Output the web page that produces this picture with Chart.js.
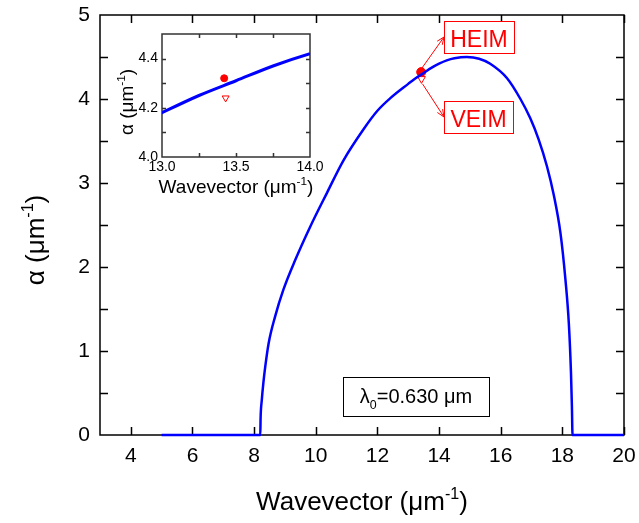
<!DOCTYPE html>
<html>
<head>
<meta charset="utf-8">
<script src="https://cdn.jsdelivr.net/npm/chart.js@4.4.1/dist/chart.umd.min.js"></script>
<style>
  body { margin: 0; background: #fff; }
  #wrap { position: relative; width: 639px; height: 523px; }
  canvas { position: absolute; }
  #main { left: 0; top: 0; }
  #inset { left: 100px; top: 20px; }
</style>
</head>
<body>
<div id="wrap">
  <canvas id="main" width="639" height="523"></canvas>
  <canvas id="inset" width="230" height="185"></canvas>
</div>
<script>
// attenuation curve
const waveK = [5, 8.20, 8.21, 8.25, 8.30, 8.36, 8.47, 8.68, 8.95, 9.33, 9.82, 10.36, 10.90, 11.55,
  12.00, 12.42, 13.00, 13.25, 13.50, 13.75, 14.00, 14.25, 14.50, 14.90, 15.30, 15.66, 16.20,
  16.64, 16.96, 17.23, 17.50, 17.72, 17.94, 18.10, 18.21, 18.28, 18.31, 18.33, 20];
const alphaVals = [0, 0, 0.20, 0.42, 0.62, 0.81, 1.09, 1.41, 1.73, 2.08, 2.48, 2.88, 3.27, 3.64,
  3.86, 4.01, 4.18, 4.25, 4.31, 4.37, 4.42, 4.46, 4.485, 4.50, 4.48, 4.42, 4.25,
  4.00, 3.77, 3.52, 3.20, 2.86, 2.40, 1.85, 1.33, 0.74, 0.34, 0, 0];

// single points
const heimPoint = { x: 13.42, y: 4.32 };
const veimPoint = { x: 13.43, y: 4.24 };

// tick labels
const mainXTicks = [4, 6, 8, 10, 12, 14, 16, 18, 20];
const mainYTicks = [0, 1, 2, 3, 4, 5];
const insetXTicks = [13.0, 13.5, 14.0];
const insetYTicks = [4.0, 4.2, 4.4];
// tick marks (incl. minor)
const mainYMarks = [0.5, 1, 1.5, 2, 2.5, 3, 3.5, 4, 4.5];
const insetXMarks = [13.25, 13.5, 13.75];
const insetYMarks = [4.1, 4.2, 4.3, 4.4];

const FONT = "'Liberation Sans', Arial, sans-serif";
Chart.defaults.font.family = FONT;
Chart.defaults.color = '#000';

const curvePts = waveK.map((k, i) => ({ x: k, y: alphaVals[i] }));

// text with super/subscript parts
function richText(ctx, parts, x, y, size, color) {
  const w = parts.reduce((s, p) => {
    ctx.font = (p.sup || p.sub ? size * 0.62 : size) + 'px ' + FONT;
    return s + ctx.measureText(p.t).width;
  }, 0);
  let cx = x - w / 2;
  ctx.fillStyle = color || '#000';
  ctx.textBaseline = 'alphabetic';
  ctx.textAlign = 'left';
  parts.forEach(p => {
    const sz = p.sup || p.sub ? size * 0.62 : size;
    ctx.font = sz + 'px ' + FONT;
    const dy = p.sup ? -size * 0.42 : p.sub ? size * 0.28 : 0;
    ctx.fillText(p.t, cx, y + dy);
    cx += ctx.measureText(p.t).width;
  });
}

function frameAndTicks(chart, o) {
  const { ctx, chartArea: a, scales: { x, y } } = chart;
  ctx.save();
  ctx.strokeStyle = o.color;
  ctx.lineWidth = o.lw;
  ctx.strokeRect(a.left, a.top, a.right - a.left, a.bottom - a.top);
  ctx.beginPath();
  o.xMarks.forEach(v => {
    const px = Math.round(x.getPixelForValue(v)) + 0.5;
    ctx.moveTo(px, a.bottom); ctx.lineTo(px, a.bottom - o.len);
    ctx.moveTo(px, a.top); ctx.lineTo(px, a.top + o.len);
  });
  o.yMarks.forEach(v => {
    const py = Math.round(y.getPixelForValue(v)) + 0.5;
    ctx.moveTo(a.left, py); ctx.lineTo(a.left + o.len, py);
    ctx.moveTo(a.right, py); ctx.lineTo(a.right - o.len, py);
  });
  ctx.stroke();
  ctx.restore();
}

const subTitleX = [{ t: 'Wavevector (\u03bcm' }, { t: '-1', sup: true }, { t: ')' }];
const subTitleY = [{ t: '\u03b1 (\u03bcm' }, { t: '-1', sup: true }, { t: ')' }];

function labelBox(ctx, text, x, y, w, h, size) {
  ctx.strokeStyle = '#ff0000';
  ctx.lineWidth = 1;
  ctx.fillStyle = '#fff';
  ctx.fillRect(x, y, w, h);
  ctx.strokeRect(x + 0.5, y + 0.5, w, h);
  richText(ctx, [{ t: text }], x + w / 2, y + h - 6, size, '#ff0000');
}

function arrow(ctx, x0, y0, x1, y1) {
  const ang = Math.atan2(y1 - y0, x1 - x0);
  ctx.strokeStyle = '#ff0000';
  ctx.lineWidth = 1;
  ctx.beginPath();
  ctx.moveTo(x0, y0); ctx.lineTo(x1, y1);
  ctx.moveTo(x1 - 8 * Math.cos(ang - 0.4), y1 - 8 * Math.sin(ang - 0.4));
  ctx.lineTo(x1, y1);
  ctx.lineTo(x1 - 8 * Math.cos(ang + 0.4), y1 - 8 * Math.sin(ang + 0.4));
  ctx.stroke();
}

const mainDeco = {
  id: 'mainDeco',
  beforeDatasetsDraw(chart) {
    frameAndTicks(chart, { color: '#000', lw: 1.5, len: 8, xMarks: mainXTicks, yMarks: mainYMarks });
  },
  afterDraw(chart) {
    const { ctx, chartArea: a, scales: { x, y } } = chart;
    ctx.save();
    richText(ctx, subTitleX, (a.left + a.right) / 2, 510, 26);
    ctx.translate(44, 240);
    ctx.rotate(-Math.PI / 2);
    richText(ctx, subTitleY, 0, 0, 26);
    ctx.restore();

    ctx.save();
    const hx = x.getPixelForValue(heimPoint.x), hy = y.getPixelForValue(heimPoint.y);
    const vx = x.getPixelForValue(veimPoint.x), vy = y.getPixelForValue(veimPoint.y);
    arrow(ctx, hx, hy - 3, 444, 37);
    arrow(ctx, vx + 1, vy + 5, 444, 117);
    labelBox(ctx, 'HEIM', 444, 21, 70, 32, 23);
    labelBox(ctx, 'VEIM', 444, 101, 69, 32, 23);
    // wavelength box
    ctx.strokeStyle = '#000';
    ctx.lineWidth = 1;
    ctx.strokeRect(343.5, 377.5, 146, 39);
    richText(ctx, [{ t: '\u03bb' }, { t: '0', sub: true }, { t: '=0.630 \u03bcm' }], 416, 403, 20);
    ctx.restore();
  }
};

const insetDeco = {
  id: 'insetDeco',
  beforeDatasetsDraw(chart) {
    frameAndTicks(chart, { color: '#333', lw: 1.5, len: 4, xMarks: insetXMarks, yMarks: insetYMarks });
  },
  afterDraw(chart) {
    const { ctx, chartArea: a } = chart;
    ctx.save();
    richText(ctx, subTitleX, (a.left + a.right) / 2, 173, 19);
    ctx.translate(33, 82);
    ctx.rotate(-Math.PI / 2);
    richText(ctx, subTitleY, 0, 0, 19);
    ctx.restore();
  }
};

function fixTicks(list) {
  return scale => { scale.ticks = list.map(v => ({ value: v })); };
}
function fitX(h) {
  return s => { s.height = h; s.paddingLeft = 0; s.paddingRight = 0; };
}
function fitY(w) {
  return s => { s.width = w; s.paddingTop = 0; s.paddingBottom = 0; };
}

new Chart(document.getElementById('main'), {
  type: 'scatter',
  data: {
    datasets: [
      { data: curvePts, showLine: true, borderColor: '#0000ff', borderWidth: 2.5, pointRadius: 0,
        cubicInterpolationMode: 'monotone', clip: false },
      { data: [heimPoint], pointRadius: 4.5, backgroundColor: '#ff0000', borderColor: '#ff0000' },
      { data: [veimPoint], pointStyle: 'triangle', rotation: 180, pointRadius: 4.5,
        backgroundColor: '#fff', borderColor: '#ff0000', borderWidth: 1 }
    ]
  },
  options: {
    responsive: false,
    animation: false,
    layout: { padding: { top: 15, right: 15, left: 0, bottom: 0 } },
    plugins: { legend: { display: false }, tooltip: { enabled: false } },
    scales: {
      x: {
        min: 3, max: 20,
        grid: { display: false, drawTicks: false },
        border: { display: false },
        afterBuildTicks: fixTicks(mainXTicks),
        afterFit: fitX(88),
        ticks: { font: { size: 21 }, padding: 9, autoSkip: false, maxRotation: 0 }
      },
      y: {
        min: 0, max: 5,
        grid: { display: false, drawTicks: false },
        border: { display: false },
        afterBuildTicks: fixTicks(mainYTicks),
        afterFit: fitY(100),
        ticks: { font: { size: 21 }, padding: 10 }
      }
    }
  },
  plugins: [mainDeco]
});

new Chart(document.getElementById('inset'), {
  type: 'scatter',
  data: {
    datasets: [
      { data: curvePts, showLine: true, borderColor: '#0000ff', borderWidth: 3, pointRadius: 0,
        cubicInterpolationMode: 'monotone' },
      { data: [heimPoint], pointRadius: 3.5, backgroundColor: '#ff0000', borderColor: '#ff0000' },
      { data: [veimPoint], pointStyle: 'triangle', rotation: 180, pointRadius: 4,
        backgroundColor: '#fff', borderColor: '#ff0000', borderWidth: 1 }
    ]
  },
  options: {
    responsive: false,
    animation: false,
    layout: { padding: { top: 14, right: 20, left: 0, bottom: 0 } },
    plugins: { legend: { display: false }, tooltip: { enabled: false } },
    scales: {
      x: {
        min: 13, max: 14,
        grid: { display: false, drawTicks: false },
        border: { display: false },
        afterBuildTicks: fixTicks(insetXTicks),
        afterFit: fitX(48),
        ticks: { font: { size: 14 }, padding: 2, autoSkip: false, maxRotation: 0,
          callback: v => Number(v).toFixed(1) }
      },
      y: {
        min: 4, max: 4.5,
        grid: { display: false, drawTicks: false },
        border: { display: false },
        afterBuildTicks: fixTicks(insetYTicks),
        afterFit: fitY(62),
        ticks: { font: { size: 14 }, padding: 4, callback: v => Number(v).toFixed(1) }
      }
    }
  },
  plugins: [insetDeco]
});
</script>
</body>
</html>
